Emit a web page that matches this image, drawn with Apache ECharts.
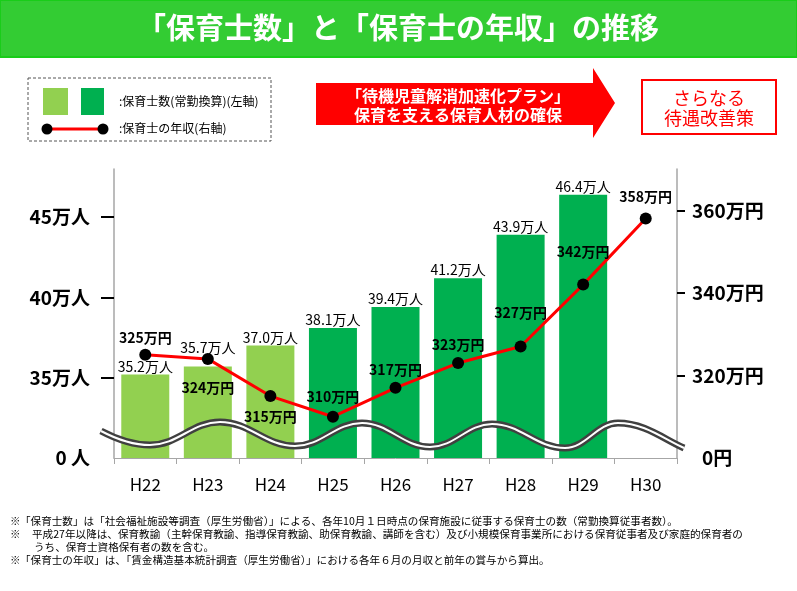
<!DOCTYPE html>
<html><head><meta charset="utf-8">
<script src="https://cdn.jsdelivr.net/npm/echarts@6/dist/echarts.min.js"></script>
<style>html,body{margin:0;padding:0;background:#fff}#c{width:797px;height:591px}</style>
</head><body><div id="c"></div>
<script>
// ---- data ----
const categories = ['H22','H23','H24','H25','H26','H27','H28','H29','H30'];
const staffCount = [35.2, 35.7, 37.0, 38.1, 39.4, 41.2, 43.9, 46.4, null]; // 万人
const annualIncome = [325, 324, 315, 310, 317, 323, 327, 342, 358];      // 万円
const leftTickValues = [35, 40, 45];
const leftLabelValues = [30, 35, 40, 45];   // 30 = axis break, shown as "0 人"
const rightTickValues = [320, 340, 360];
const rightLabelValues = [300, 320, 340, 360]; // 300 = axis break, shown as "0円"

// ---- label placement (separate from data) ----
const staffLabelDy = [0, -11, 0, 0, 0, 0, 0, 0, 0];
const incomeLabelDy = [-17, 29, 21, -20, -18, -18, -34, -33, -22];

const FONT = '"Noto Sans CJK JP", "Noto Sans", sans-serif';
const LIGHT = '#92d050', DARK = '#00b050';

const chart = echarts.init(document.getElementById('c'), null, {renderer: 'canvas'});

const barData = staffCount.map((v, i) => ({
  value: v,
  itemStyle: {color: i < 3 ? LIGHT : DARK},
  label: {offset: [0, staffLabelDy[i]]}
}));
const lineData = annualIncome.map((v, i) => ({
  value: v,
  label: {offset: [0, incomeLabelDy[i]]}
}));

// wave break decoration: cubic segments [x1,y1,cpx1,cpy1,cpx2,cpy2,x2,y2]
const waveSegs = [
  [101,431, 118,440, 135,445, 150,445],
  [150,445, 178,445, 192,422, 220,422],
  [220,422, 250,422, 265,446, 295,446],
  [295,446, 322,446, 335,423, 362,423],
  [362,423, 389,423, 403,447, 430,447],
  [430,447, 455,447, 467,424, 492,424],
  [492,424, 521,424, 536,448, 565,448],
  [565,448, 586,448, 597,423, 618,423],
  [618,423, 645,423, 665,440, 684,448]
];
const waveEls = [];
[['#404040', 7, 50], ['#ffffff', 2, 51]].forEach(([col, w, z]) => {
  waveSegs.forEach(s => waveEls.push({
    type: 'bezierCurve', z: z,
    shape: {x1: s[0], y1: s[1], cpx1: s[2], cpy1: s[3], cpx2: s[4], cpy2: s[5], x2: s[6], y2: s[7]},
    style: {fill: null, stroke: col, lineWidth: w, lineCap: 'butt'}
  }));
});

const t = (x, y, text, font, fill, align) => ({
  type: 'text', x: x, y: y, z: 100,
  style: {text: text, font: font, fill: fill || '#000', textAlign: align || 'center', textVerticalAlign: 'middle'}
});

const footFont = '10.6px ' + FONT;

const option = {
  backgroundColor: '#fff',
  animation: false,
  textStyle: {fontFamily: FONT},
  grid: {left: 114, right: 120, top: 169, bottom: 133},
  xAxis: {
    type: 'category',
    data: categories,
    axisLine: {lineStyle: {color: '#a6a6a6', width: 1}},
    axisTick: {show: true, length: 6, lineStyle: {color: '#a6a6a6'}},
    axisLabel: {color: '#000', fontSize: 17, margin: 18, fontFamily: FONT}
  },
  yAxis: [{
    type: 'value', position: 'left', min: 30, max: 48, interval: 5,
    splitLine: {show: false},
    axisLine: {show: true, lineStyle: {color: '#a6a6a6', width: 1.5}},
    axisTick: {show: true, customValues: leftTickValues, length: 13, lineStyle: {color: '#000', width: 2}},
    axisLabel: {
      customValues: leftLabelValues, margin: 24, color: '#000', fontSize: 19, fontWeight: 'bold', fontFamily: FONT,
      formatter: v => v === 30 ? '0 人' : v + '万人'
    }
  }, {
    type: 'value', position: 'right', min: 300, max: 370, interval: 20,
    splitLine: {show: false},
    axisLine: {show: true, lineStyle: {color: '#a6a6a6', width: 1.5}},
    axisTick: {show: true, customValues: rightTickValues, length: 8, lineStyle: {color: '#000', width: 2}},
    axisLabel: {
      customValues: rightLabelValues, margin: 15, color: '#000', fontSize: 19, fontWeight: 'bold', fontFamily: FONT,
      formatter: v => v === 300 ? '{z|0円}' : v + '万円',
      rich: {z: {padding: [0, 0, 0, 10], fontSize: 19, fontWeight: 'bold', color: '#000', fontFamily: FONT}}
    }
  }],
  series: [{
    type: 'bar', yAxisIndex: 0, barWidth: 48, data: barData,
    label: {show: true, position: 'top', distance: 1, color: '#000', fontSize: 14, fontFamily: FONT,
      formatter: p => p.value == null ? '' : p.value.toFixed(1) + '万人'}
  }, {
    type: 'line', yAxisIndex: 1, data: lineData,
    symbol: 'circle', symbolSize: 12,
    itemStyle: {color: '#000'},
    lineStyle: {color: '#ff0000', width: 3},
    label: {show: true, position: 'inside', color: '#000', fontSize: 14, fontWeight: 'bold', fontFamily: FONT,
      formatter: p => p.value + '万円'}
  }],
  graphic: waveEls.concat([
    // title banner
    {type: 'rect', z: 90, shape: {x: 0, y: 0, width: 797, height: 57}, style: {fill: '#33cc33', stroke: '#19cc19', lineWidth: 2}},
    t(398, 28, '「保育士数」と「保育士の年収」の推移', 'bold 29px ' + FONT, '#fff'),
    // legend box
    {type: 'rect', z: 90, shape: {x: 28, y: 78, width: 243, height: 63}, style: {fill: null, stroke: '#555', lineWidth: 1, lineDash: [3, 2]}},
    {type: 'rect', z: 91, shape: {x: 43, y: 88, width: 25, height: 27}, style: {fill: LIGHT}},
    {type: 'rect', z: 91, shape: {x: 81, y: 88, width: 23, height: 27}, style: {fill: DARK}},
    {type: 'line', z: 91, shape: {x1: 47, y1: 129, x2: 103, y2: 129}, style: {stroke: '#ff0000', lineWidth: 3}},
    {type: 'circle', z: 92, shape: {cx: 47, cy: 129, r: 5.5}, style: {fill: '#000'}},
    {type: 'circle', z: 92, shape: {cx: 103, cy: 129, r: 5.5}, style: {fill: '#000'}},
    t(119, 101, ':保育士数(常勤換算)(左軸)', '12px ' + FONT, '#000', 'left'),
    t(119, 128, ':保育士の年収(右軸)', '12px ' + FONT, '#000', 'left'),
    // red arrow
    {type: 'polygon', z: 90, shape: {points: [[316, 83], [593, 83], [593, 68], [615, 103], [593, 138], [593, 125], [316, 125]]}, style: {fill: '#ff0000'}},
    t(458, 96, '「待機児童解消加速化プラン」', 'bold 16px ' + FONT, '#fff'),
    t(458, 115, '保育を支える保育人材の確保', 'bold 16px ' + FONT, '#fff'),
    // red box
    {type: 'rect', z: 90, shape: {x: 642, y: 80, width: 134, height: 54}, style: {fill: '#fff', stroke: '#ff0000', lineWidth: 2}},
    t(709, 98, 'さらなる', '18px ' + FONT, '#ff0000'),
    t(709, 118, '待遇改善策', '18px ' + FONT, '#ff0000'),
    // footnotes
    t(10, 521, '※', footFont, '#000', 'left'),
    t(20, 521, '「保育士数」は「社会福祉施設等調査（厚生労働省）」による、各年10月１日時点の保育施設に従事する保育士の数（常勤換算従事者数）。', footFont, '#000', 'left'),
    t(10, 534, '※', footFont, '#000', 'left'),
    t(32, 534, '平成27年以降は、保育教諭（主幹保育教諭、指導保育教諭、助保育教諭、講師を含む）及び小規模保育事業所における保育従事者及び家庭的保育者の', footFont, '#000', 'left'),
    t(34, 547, 'うち、保育士資格保有者の数を含む。', footFont, '#000', 'left'),
    t(10, 560, '※', footFont, '#000', 'left'),
    t(20, 560, '「保育士の年収」は、「賃金構造基本統計調査（厚生労働省）」における各年６月の月収と前年の賞与から算出。', footFont, '#000', 'left')
  ])
};
chart.setOption(option);
</script>
</body></html>
